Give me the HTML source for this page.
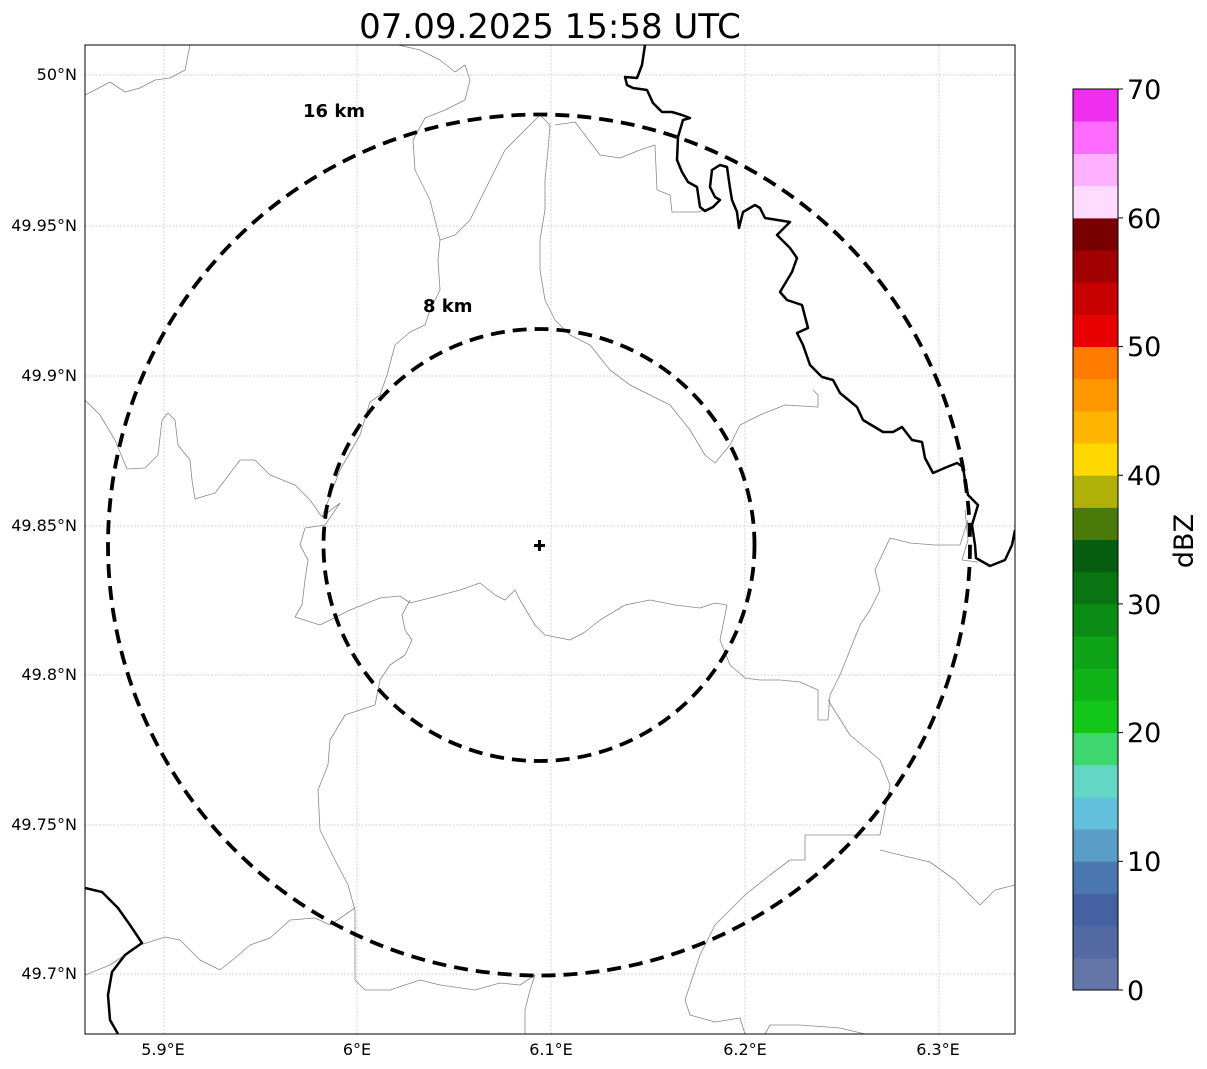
<!DOCTYPE html>
<html><head><meta charset="utf-8"><style>
html,body{margin:0;padding:0;background:#fff;}
svg{display:block;}
text{font-family:"DejaVu Sans","Liberation Sans",sans-serif;}
</style></head><body>
<svg width="1207" height="1069" viewBox="0 0 1207 1069" xmlns="http://www.w3.org/2000/svg">
<rect width="1207" height="1069" fill="#fff"/>
<text x="550" y="38" font-size="34" text-anchor="middle" fill="#000">07.09.2025 15:58 UTC</text>
<clipPath id="c"><rect x="85" y="45" width="930" height="989"/></clipPath>
<g clip-path="url(#c)">
<g stroke="#c4c4c4" stroke-width="0.7" stroke-dasharray="2,1.5" fill="none">
<line x1="164" y1="45" x2="164" y2="1034"/><line x1="357" y1="45" x2="357" y2="1034"/><line x1="551" y1="45" x2="551" y2="1034"/><line x1="745" y1="45" x2="745" y2="1034"/><line x1="939" y1="45" x2="939" y2="1034"/>
<line x1="85" y1="75" x2="1015" y2="75"/><line x1="85" y1="226" x2="1015" y2="226"/><line x1="85" y1="376" x2="1015" y2="376"/><line x1="85" y1="526" x2="1015" y2="526"/><line x1="85" y1="675" x2="1015" y2="675"/><line x1="85" y1="825" x2="1015" y2="825"/><line x1="85" y1="974" x2="1015" y2="974"/>
</g>
<g stroke="#888" stroke-width="0.8" fill="none" stroke-linejoin="round">
<polyline points="85,95 95,90 110,82 125,92 140,88 155,80 170,78 185,70 190,45"/>
<polyline points="398,45 420,50 440,60 455,72 465,65 470,80 465,100 445,110 425,118 413,140 415,170 430,200 435,220 440,240 438,260 440,290 430,310 425,325 410,332 395,345 387,375 380,395 370,402 360,435 340,470 322,517"/>
<polyline points="85,400 100,415 115,440 127,469 145,468 158,455 162,420 168,413 175,420 178,445 190,460 192,480 195,499 215,493 225,480 240,460 255,460 270,475 295,485 310,500 322,517 340,503 325,525 305,528 300,545 308,560 305,580 302,605 295,617 320,625 350,610 380,598 400,596 410,603 430,598 460,590 480,583 495,595 505,600 515,590 520,600 535,625 545,635 570,640 585,632 600,620 625,605 650,600 675,605 700,608 715,603 727,605"/>
<polyline points="410,600 402,615 405,630 412,640 405,655 390,665 380,680 375,705 345,715 330,740 328,765 318,790 320,830 335,860 348,885 355,910 355,950 355,980 365,990 390,990 420,980 440,985 475,990 500,983 520,985 535,975 530,990 525,1010 525,1034"/>
<polyline points="85,975 110,965 140,945 165,937 180,940 200,960 220,970 235,958 250,945 270,938 290,920 315,918 330,925 355,908"/>
<polyline points="540,115 520,135 505,150 495,170 485,190 470,220 455,235 440,240"/>
<polyline points="540,115 550,125 548,150 545,180 545,210 540,240 540,270 545,300 555,320 570,335 590,345 610,370 630,385 650,395 670,405 690,430 705,455 715,463 730,445 740,425 760,415 785,405 818,407 818,395 813,390"/>
<polyline points="555,125 575,122 600,155 620,158 640,150 655,145 657,190 670,195 672,212 698,212 715,206"/>
<polyline points="968,520 960,545 935,545 910,543 890,538 875,570 880,590 870,610 860,625 850,650 840,675 830,695 828,720 818,720 818,690 800,682 780,680 760,680 745,678 730,665 720,640 727,605"/>
<polyline points="828,700 850,735 880,760 890,785 885,810 880,835 840,835 805,835 805,860 790,860 770,875 745,895 715,925 700,955 690,985 685,1000 690,1015 715,1022 740,1018 745,1034"/>
<polyline points="880,850 900,855 930,862 955,880 980,905 995,890 1015,885"/>
<polyline points="765,1034 770,1025 800,1025 840,1028 865,1034"/>
<polyline points="965,510 968,540 962,560 978,562"/>
</g>
<g stroke="#000" stroke-width="2.5" fill="none" stroke-linejoin="round">
<polyline points="645,45 642,65 637,78 625,77 627,85 633,88 647,90 653,103 662,112 672,112 682,115 690,118 683,120 678,137 677,160 682,172 688,182 697,187 700,207 705,211 713,207 720,200 715,197 710,187 712,170 720,165 727,167 730,188 732,200 737,212 739,228 743,212 755,205 760,208 765,218 790,222 777,235 790,248 797,258 792,272 780,292 787,300 802,305 808,328 797,333 803,345 810,365 822,377 833,380 840,393 857,407 863,420 883,432 893,432 902,427 912,440 922,442 925,458 933,473 947,467 957,463 963,467 965,480 968,495 978,505 972,525 975,545 976,558 990,566 1005,560 1012,545 1015,530"/>
<polyline points="85,888 102,892 118,908 130,925 142,943 125,955 112,972 108,995 110,1020 118,1034"/>
</g>
<g stroke="#000" stroke-width="3.8" fill="none" stroke-dasharray="14,8">
<ellipse cx="539" cy="545" rx="431" ry="430.5"/>
<ellipse cx="539" cy="545" rx="215.5" ry="216"/>
</g>
<path d="M539.5 540v11M534 545.5h11" stroke="#000" stroke-width="3"/>
</g>
<rect x="85" y="45" width="930" height="989" fill="none" stroke="#000" stroke-width="1"/>
<text x="303" y="117" font-size="18" font-weight="bold" fill="#000">16 km</text>
<text x="423" y="312" font-size="18" font-weight="bold" fill="#000">8 km</text>
<g font-size="16" fill="#000" text-anchor="end">
<text x="77" y="80">50°N</text><text x="77" y="231">49.95°N</text><text x="77" y="381">49.9°N</text><text x="77" y="531">49.85°N</text><text x="77" y="680">49.8°N</text><text x="77" y="830">49.75°N</text><text x="77" y="979">49.7°N</text>
</g>
<g font-size="16" fill="#000" text-anchor="middle">
<text x="163" y="1055">5.9°E</text><text x="357" y="1055">6°E</text><text x="551" y="1055">6.1°E</text><text x="745" y="1055">6.2°E</text><text x="938" y="1055">6.3°E</text>
</g>
<g>
<rect x="1073" y="957.8" width="45" height="32.6" fill="#6376a8"/>
<rect x="1073" y="925.6" width="45" height="32.6" fill="#546aa2"/>
<rect x="1073" y="893.5" width="45" height="32.6" fill="#4561a3"/>
<rect x="1073" y="861.3" width="45" height="32.6" fill="#4b78b0"/>
<rect x="1073" y="829.1" width="45" height="32.6" fill="#5a9ec8"/>
<rect x="1073" y="796.9" width="45" height="32.6" fill="#63c0dc"/>
<rect x="1073" y="764.8" width="45" height="32.6" fill="#63d6c6"/>
<rect x="1073" y="732.6" width="45" height="32.6" fill="#3dd66f"/>
<rect x="1073" y="700.4" width="45" height="32.6" fill="#12c61a"/>
<rect x="1073" y="668.3" width="45" height="32.6" fill="#10b418"/>
<rect x="1073" y="636.1" width="45" height="32.6" fill="#0ea216"/>
<rect x="1073" y="603.9" width="45" height="32.6" fill="#0b8c14"/>
<rect x="1073" y="571.8" width="45" height="32.6" fill="#0a7412"/>
<rect x="1073" y="539.6" width="45" height="32.6" fill="#055e0f"/>
<rect x="1073" y="507.4" width="45" height="32.6" fill="#4a7a0a"/>
<rect x="1073" y="475.3" width="45" height="32.6" fill="#b0b008"/>
<rect x="1073" y="443.1" width="45" height="32.6" fill="#ffd800"/>
<rect x="1073" y="410.9" width="45" height="32.6" fill="#ffb400"/>
<rect x="1073" y="378.8" width="45" height="32.6" fill="#ff9800"/>
<rect x="1073" y="346.6" width="45" height="32.6" fill="#ff7c00"/>
<rect x="1073" y="314.4" width="45" height="32.6" fill="#e80000"/>
<rect x="1073" y="282.3" width="45" height="32.6" fill="#c80000"/>
<rect x="1073" y="250.1" width="45" height="32.6" fill="#a00000"/>
<rect x="1073" y="217.9" width="45" height="32.6" fill="#780000"/>
<rect x="1073" y="185.8" width="45" height="32.6" fill="#ffdcff"/>
<rect x="1073" y="153.6" width="45" height="32.6" fill="#ffb0ff"/>
<rect x="1073" y="121.4" width="45" height="32.6" fill="#ff6cff"/>
<rect x="1073" y="89" width="45" height="32.6" fill="#f030f0"/>
<rect x="1073" y="89" width="45" height="901" fill="none" stroke="#000" stroke-width="1"/>
</g>
<g stroke="#000" stroke-width="1">
<line x1="1118" y1="990" x2="1123" y2="990"/><line x1="1118" y1="861.3" x2="1123" y2="861.3"/><line x1="1118" y1="732.6" x2="1123" y2="732.6"/><line x1="1118" y1="603.9" x2="1123" y2="603.9"/><line x1="1118" y1="475.3" x2="1123" y2="475.3"/><line x1="1118" y1="346.6" x2="1123" y2="346.6"/><line x1="1118" y1="217.9" x2="1123" y2="217.9"/><line x1="1118" y1="89" x2="1123" y2="89"/>
</g>
<g font-size="27" fill="#000">
<text x="1127" y="1000">0</text><text x="1127" y="871">10</text><text x="1127" y="742">20</text><text x="1127" y="614">30</text><text x="1127" y="485">40</text><text x="1127" y="356">50</text><text x="1127" y="228">60</text><text x="1127" y="99">70</text>
</g>
<text x="0" y="0" font-size="27" fill="#000" text-anchor="middle" transform="translate(1193,541) rotate(-90)">dBZ</text>
</svg>
</body></html>
